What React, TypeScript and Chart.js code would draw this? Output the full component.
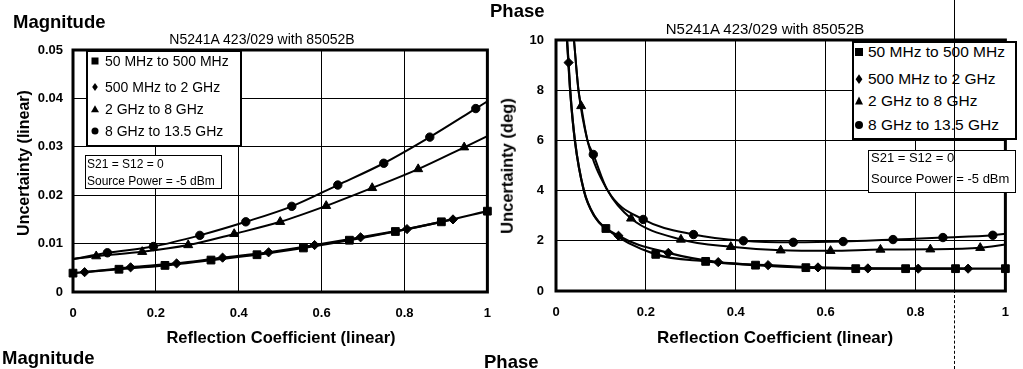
import React, { useEffect, useRef } from 'react';
import { Chart, registerables } from 'chart.js';

Chart.register(...registerables);

const FONT = "'Liberation Sans', Arial, Helvetica, sans-serif";

// ---------- shared labels ----------
const seriesNames = ['50 MHz to 500 MHz', '500 MHz to 2 GHz', '2 GHz to 8 GHz', '8 GHz to 13.5 GHz'];
const xTickLabels = ['0', '0.2', '0.4', '0.6', '0.8', '1'];
const magYTickLabels = ['0', '0.01', '0.02', '0.03', '0.04', '0.05'];
const phYTickLabels = ['0', '2', '4', '6', '8', '10'];
const chartTitle = 'N5241A 423/029 with 85052B';
const noteLines = ['S21 = S12 = 0', 'Source Power = -5 dBm'];

// ---------- Magnitude (linear) ----------
const magSquareX = [0, 0.111, 0.222, 0.333, 0.444, 0.556, 0.667, 0.778, 0.889, 1.0];
const magSquareY = [0.0039, 0.0047, 0.0055, 0.0066, 0.0077, 0.0091, 0.0107, 0.0125, 0.0145, 0.0167];
const magDiamondX = [0.028, 0.139, 0.25, 0.361, 0.472, 0.583, 0.694, 0.806, 0.917];
const magDiamondY = [0.0041, 0.0051, 0.0059, 0.0071, 0.0082, 0.0097, 0.0113, 0.013, 0.015];
const magTriangleX = [0.056, 0.167, 0.278, 0.389, 0.5, 0.611, 0.722, 0.833, 0.944];
const magTriangleY = [0.0074, 0.0083, 0.0097, 0.012, 0.0145, 0.0178, 0.0215, 0.0254, 0.0299];
const magCircleX = [0.083, 0.194, 0.306, 0.417, 0.528, 0.639, 0.75, 0.861, 0.972];
const magCircleY = [0.0081, 0.0094, 0.0117, 0.0145, 0.0177, 0.0221, 0.0266, 0.032, 0.0379];
// unmarked line ends read at x = 0 and x = 1
const magEndX = [0, 1];
const magTriangleEndY = [0.0068, 0.0322];
const magCircleEndY = [0.0068, 0.0394];

// ---------- Phase (deg) ----------
const phSquareX = [0.111, 0.222, 0.333, 0.444, 0.556, 0.667, 0.778, 0.889, 1.0];
const phSquareY = [2.49, 1.46, 1.18, 1.03, 0.93, 0.89, 0.89, 0.89, 0.89];
const phDiamondX = [0.028, 0.139, 0.25, 0.361, 0.472, 0.583, 0.694, 0.806, 0.917];
const phDiamondY = [9.1, 2.2, 1.52, 1.15, 1.03, 0.94, 0.9, 0.89, 0.89];
const phTriangleX = [0.056, 0.167, 0.278, 0.389, 0.5, 0.611, 0.722, 0.833, 0.944];
const phTriangleY = [7.37, 2.89, 2.05, 1.76, 1.62, 1.6, 1.65, 1.66, 1.72];
const phCircleX = [0.083, 0.194, 0.306, 0.417, 0.528, 0.639, 0.75, 0.861, 0.972];
const phCircleY = [5.44, 2.85, 2.25, 2.0, 1.94, 1.97, 2.05, 2.13, 2.22];
// unmarked points read along the steep parts of the curves
const phLowerTraceX = [0.0245, 0.0315, 0.042, 0.062, 0.085];
const phLowerTraceY = [10, 8, 6, 4, 3];
const phUpperTraceX = [0.04, 0.05, 0.07, 0.115];
const phUpperTraceY = [10, 8, 6, 4];
const phEndX = [1];
const phTriangleEndY = [1.85];
const phCircleEndY = [2.28];

// ---------- helpers ----------
type P = { x: number; y: number };
const pts = (xs: number[], ys: number[]): P[] => xs.map((x, i) => ({ x, y: ys[i] }));
const merged = (...sets: P[][]): P[] => sets.flat().sort((a, b) => a.x - b.x);

const markerStyles = ['rect', 'rectRot', 'triangle', 'circle'];
const markerRadii = [5.5, 4.6, 5.2, 4.2];

function lineDs(label: string, data: P[], width: number) {
  return {
    label,
    data,
    showLine: true,
    borderColor: '#000',
    backgroundColor: '#000',
    borderWidth: width,
    pointRadius: 0,
    pointHoverRadius: 0,
    cubicInterpolationMode: 'monotone',
    fill: false,
    clip: false,
  };
}

function markerDs(label: string, data: P[], i: number) {
  return {
    label,
    data,
    showLine: false,
    pointStyle: markerStyles[i],
    pointRadius: markerRadii[i],
    pointHoverRadius: markerRadii[i],
    pointBackgroundColor: '#000',
    pointBorderColor: '#000',
    pointBorderWidth: 1,
    clip: false,
  };
}

const framePlugin = {
  id: 'frame',
  afterDatasetsDraw(chart: any) {
    const { ctx, chartArea: a } = chart;
    ctx.save();
    ctx.strokeStyle = '#000';
    ctx.lineWidth = 3;
    ctx.strokeRect(a.left, a.top, a.right - a.left, a.bottom - a.top);
    ctx.restore();
  },
};

function buildOptions(yMax: number, yStep: number, yLabels: string[], yWidth: number, yPad: number, xHeight: number, padding: any) {
  const tickFont = { family: FONT, size: 13, weight: 'bold' as const };
  return {
    responsive: false,
    animation: false as const,
    events: [] as any[],
    layout: { padding },
    plugins: { legend: { display: false }, tooltip: { enabled: false }, title: { display: false } },
    scales: {
      x: {
        type: 'linear' as const,
        min: 0,
        max: 1,
        ticks: {
          stepSize: 0.2,
          padding: 14,
          color: '#000',
          font: tickFont,
          maxRotation: 0,
          autoSkip: false,
          callback: (_v: any, i: number) => xTickLabels[i] ?? '',
        },
        grid: { color: '#000', lineWidth: 1, drawTicks: false },
        border: { display: false },
        afterFit: (s: any) => {
          s.height = xHeight;
        },
      },
      y: {
        type: 'linear' as const,
        min: 0,
        max: yMax,
        ticks: {
          stepSize: yStep,
          padding: yPad,
          color: '#000',
          font: tickFont,
          autoSkip: false,
          callback: (_v: any, i: number) => yLabels[i] ?? '',
        },
        grid: { color: '#000', lineWidth: 1, drawTicks: false },
        border: { display: false },
        afterFit: (s: any) => {
          s.width = yWidth;
        },
      },
    },
  };
}

function magConfig(): any {
  const sq = pts(magSquareX, magSquareY);
  const dm = pts(magDiamondX, magDiamondY);
  const tr = pts(magTriangleX, magTriangleY);
  const ci = pts(magCircleX, magCircleY);
  return {
    type: 'scatter',
    data: {
      datasets: [
        lineDs(seriesNames[0], sq, 2.2),
        lineDs(seriesNames[1], dm, 2.2),
        lineDs(seriesNames[2], merged(tr, pts(magEndX, magTriangleEndY)), 2),
        lineDs(seriesNames[3], merged(ci, pts(magEndX, magCircleEndY)), 2),
        markerDs(seriesNames[0], sq, 0),
        markerDs(seriesNames[1], dm, 1),
        markerDs(seriesNames[2], tr, 2),
        markerDs(seriesNames[3], ci, 3),
      ],
    },
    options: buildOptions(0.05, 0.01, magYTickLabels, 73, 10, 77, { left: 0, top: 50, right: 15, bottom: 0 }),
    plugins: [framePlugin],
  };
}

function phaseConfig(): any {
  const sq = pts(phSquareX, phSquareY);
  const dm = pts(phDiamondX, phDiamondY);
  const tr = pts(phTriangleX, phTriangleY);
  const ci = pts(phCircleX, phCircleY);
  const lower = pts(phLowerTraceX, phLowerTraceY);
  const upper = pts(phUpperTraceX, phUpperTraceY);
  return {
    type: 'scatter',
    data: {
      datasets: [
        lineDs(seriesNames[0], merged(lower, sq), 2.2),
        lineDs(seriesNames[1], merged(lower, dm), 2.2),
        lineDs(seriesNames[2], merged(upper, tr, pts(phEndX, phTriangleEndY)), 2),
        lineDs(seriesNames[3], merged(upper, ci, pts(phEndX, phCircleEndY)), 2),
        markerDs(seriesNames[0], sq, 0),
        markerDs(seriesNames[1], dm, 1),
        markerDs(seriesNames[2], tr, 2),
        markerDs(seriesNames[3], ci, 3),
      ],
    },
    options: buildOptions(10, 2, phYTickLabels, 51, 12, 78, { left: 0, top: 40, right: 6, bottom: 0 }),
    plugins: [framePlugin],
  };
}

// ---------- overlay pieces ----------
function Txt(props: { x: number; y: number; size: number; bold?: boolean; center?: boolean; rotate?: boolean; children: any }) {
  const { x, y, size, bold, center, rotate, children } = props;
  let transform = center ? 'translate(-50%, -50%)' : 'translateY(-50%)';
  if (rotate) transform = 'translate(-50%, -50%) rotate(-90deg)';
  return (
    <div
      style={{
        position: 'absolute',
        left: x,
        top: y,
        fontSize: size,
        fontWeight: bold ? 'bold' : 'normal',
        lineHeight: 1,
        whiteSpace: 'nowrap',
        transform,
        zIndex: 3,
      }}
    >
      {children}
    </div>
  );
}

function Marker(props: { kind: number; x: number; y: number; s: number }) {
  const { kind, x, y, s } = props;
  const base: any = { position: 'absolute', left: x, top: y, zIndex: 4 };
  if (kind === 0) return <div style={{ ...base, width: s, height: s, background: '#000', transform: 'translate(-50%,-50%)' }} />;
  if (kind === 1)
    return (
      <div
        style={{
          ...base,
          width: s * 0.72,
          height: s * 0.72,
          background: '#000',
          transform: 'translate(-50%,-50%) scale(0.8,1.15) rotate(45deg)',
        }}
      />
    );
  if (kind === 2)
    return (
      <div
        style={{
          ...base,
          width: 0,
          height: 0,
          borderLeft: `${s / 2 + 0.5}px solid transparent`,
          borderRight: `${s / 2 + 0.5}px solid transparent`,
          borderBottom: `${s}px solid #000`,
          transform: 'translate(-50%,-55%)',
        }}
      />
    );
  return <div style={{ ...base, width: s, height: s, borderRadius: '50%', background: '#000', transform: 'translate(-50%,-50%)' }} />;
}

function Box(props: { x: number; y: number; w: number; h: number; bw: number }) {
  const { x, y, w, h, bw } = props;
  return (
    <div
      style={{
        position: 'absolute',
        left: x,
        top: y,
        width: w,
        height: h,
        boxSizing: 'border-box',
        border: `${bw}px solid #000`,
        background: '#fff',
        zIndex: 2,
      }}
    />
  );
}

function Legend(props: { mx: number; tx: number; rows: number[]; size: number; ms: number }) {
  const { mx, tx, rows, size, ms } = props;
  return (
    <>
      {seriesNames.map((n, i) => (
        <React.Fragment key={n}>
          <Marker kind={i} x={mx} y={rows[i]} s={ms} />
          <Txt x={tx} y={rows[i]} size={size}>
            {n}
          </Txt>
        </React.Fragment>
      ))}
    </>
  );
}

export default function App() {
  const leftRef = useRef<HTMLCanvasElement>(null);
  const rightRef = useRef<HTMLCanvasElement>(null);

  useEffect(() => {
    const c1 = new Chart(leftRef.current as HTMLCanvasElement, magConfig());
    const c2 = new Chart(rightRef.current as HTMLCanvasElement, phaseConfig());
    return () => {
      c1.destroy();
      c2.destroy();
    };
  }, []);

  return (
    <div
      style={{
        position: 'fixed',
        left: 0,
        top: 0,
        width: 1023,
        height: 369,
        background: '#fff',
        overflow: 'hidden',
        fontFamily: FONT,
        color: '#000',
      }}
    >
      <canvas ref={leftRef} width={505} height={369} style={{ position: 'absolute', left: 0, top: 0, zIndex: 1 }} />
      <canvas ref={rightRef} width={518} height={369} style={{ position: 'absolute', left: 505, top: 0, zIndex: 1 }} />

      {/* headings */}
      <Txt x={13} y={21.5} size={18.5} bold>Magnitude</Txt>
      <Txt x={490} y={11} size={18.5} bold>Phase</Txt>
      <Txt x={2} y={358} size={18.5} bold>Magnitude</Txt>
      <Txt x={484} y={362} size={18.5} bold>Phase</Txt>

      {/* chart titles */}
      <Txt x={262} y={39} size={14} center>{chartTitle}</Txt>
      <Txt x={765} y={28} size={15} center>{chartTitle}</Txt>

      {/* axis titles */}
      <Txt x={281} y={337} size={16.5} bold center>Reflection Coefficient (linear)</Txt>
      <Txt x={775} y={337} size={17} bold center>Reflection Coefficient (linear)</Txt>
      <Txt x={24} y={163} size={16} bold rotate>Uncertainty (linear)</Txt>
      <Txt x={507} y={166} size={16.5} bold rotate>Uncertainty (deg)</Txt>

      {/* left legend + note */}
      <Box x={86} y={50} w={156} h={97} bw={2} />
      <Legend mx={95} tx={105} rows={[61, 87, 109, 131]} size={14} ms={7} />
      <Box x={85} y={155} w={137} h={34} bw={1} />
      <Txt x={87} y={163.5} size={12}>{noteLines[0]}</Txt>
      <Txt x={87} y={181} size={12}>{noteLines[1]}</Txt>

      {/* right legend + note */}
      <Box x={852} y={41} w={165} h={99} bw={2} />
      <Legend mx={859} tx={868} rows={[52, 79, 101, 125]} size={15.5} ms={8} />
      <Box x={868} y={150} w={148} h={43} bw={1} />
      <Txt x={871} y={157} size={13}>{noteLines[0]}</Txt>
      <Txt x={871} y={178} size={13}>{noteLines[1]}</Txt>

      {/* vertical scan line crossing the phase chart */}
      <div style={{ position: 'absolute', left: 954, top: 0, width: 0, height: 290, borderLeft: '1px solid #000', zIndex: 5 }} />
      <div style={{ position: 'absolute', left: 954, top: 290, width: 0, height: 79, borderLeft: '1px dashed #000', zIndex: 5 }} />
    </div>
  );
}
